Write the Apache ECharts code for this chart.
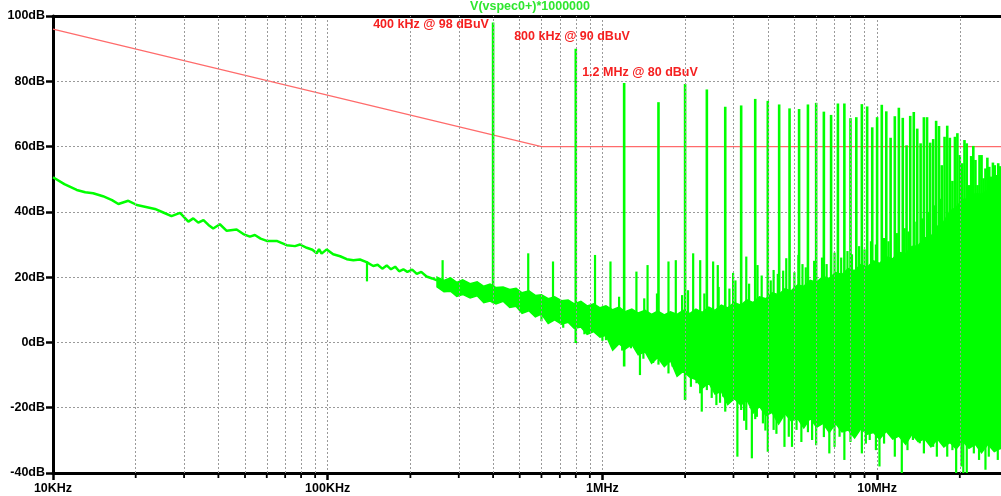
<!DOCTYPE html>
<html>
<head>
<meta charset="utf-8">
<title>V(vspec0+) spectrum</title>
<script src="https://cdn.jsdelivr.net/npm/echarts@6/dist/echarts.min.js"></script>
<style>
  html, body { margin: 0; padding: 0; background: #fff; }
  #spectrum_chart { width: 1001px; height: 496px; }
</style>
</head>
<body>
<div id="spectrum_chart"></div>
<script>
// ---- data ----
// x tick labels (log axis, Hz)
var xTickValues = [1e4, 1e5, 1e6, 1e7];
var xTickLabels = ['10KHz', '100KHz', '1MHz', '10MHz'];
// minor grid lines 2..9 x decade
var minorFreq = [2e4, 3e4, 4e4, 5e4, 6e4, 7e4, 8e4, 9e4,
                 2e5, 3e5, 4e5, 5e5, 6e5, 7e5, 8e5, 9e5,
                 2e6, 3e6, 4e6, 5e6, 6e6, 7e6, 8e6, 9e6,
                 2e7];

// red limit line
var limitFreq = [10000, 600000, 30000000];
var limitDb = [96, 60, 60];

// low frequency noise floor (single trace)
var lowFreq = [10000, 11000, 12200, 13100, 14000, 15200, 16400, 17300, 18800, 20200,
               21800, 23500, 25200, 27000, 29000, 31100, 32400, 33800, 35300, 36800,
               38300, 40500, 42900, 46600, 49300, 52100, 54300, 57000, 60000, 65200,
               70900, 76000, 79300, 83900, 88000, 91200, 93000, 95000, 99200, 104700,
               111000, 117300, 124000, 131000, 138500, 146500, 152000, 158000, 164000, 170000,
               176000, 182000, 188500, 195000, 203000, 211000, 219000, 229000, 240000, 250000];
var lowDb = [50.6, 48.5, 46.7, 46.0, 45.7, 44.8, 43.6, 42.4, 43.4, 42.1,
             41.5, 40.9, 39.8, 38.7, 39.7, 37.0, 38.0, 36.7, 37.5, 36.0,
             34.9, 36.2, 34.2, 34.6, 33.2, 32.4, 32.9, 31.8, 31.1, 31.1,
             29.8, 29.5, 30.0, 29.0, 28.4, 27.3, 28.6, 27.2, 28.5, 27.0,
             26.4, 25.5, 25.2, 25.4, 24.6, 23.4, 23.8, 22.6, 23.6, 22.4,
             23.2, 21.8, 22.4, 21.6, 22.3, 21.0, 21.6, 20.2, 19.6, 19.0];

// dense noise band above 250 kHz: upper / lower edge
var bandFreq = [250e3, 265e3, 280e3, 295e3, 310e3, 330e3, 350e3, 370e3, 390e3, 410e3,
                435e3, 460e3, 485e3, 510e3, 540e3, 570e3, 600e3, 635e3, 670e3, 710e3,
                750e3, 790e3, 835e3, 880e3, 930e3, 980e3, 1.03e6, 1.09e6, 1.15e6, 1.21e6,
                1.28e6, 1.35e6, 1.43e6, 1.51e6, 1.59e6, 1.68e6, 1.77e6, 1.87e6, 1.97e6, 2.08e6,
                2.19e6, 2.31e6, 2.44e6, 2.57e6, 2.71e6, 2.86e6, 3.02e6, 3.19e6, 3.36e6, 3.54e6,
                3.73e6, 3.94e6, 4.15e6, 4.38e6, 4.62e6, 4.87e6, 5.13e6, 5.41e6, 5.71e6, 6.02e6,
                6.35e6, 6.7e6, 7.06e6, 7.45e6, 7.85e6, 8.28e6, 8.73e6, 9.21e6, 9.71e6, 10.2e6,
                10.8e6, 11.4e6, 12.0e6, 12.7e6, 13.4e6, 14.1e6, 14.9e6, 15.7e6, 16.6e6, 17.5e6,
                18.4e6, 19.4e6, 20.5e6, 21.6e6, 22.8e6, 24.0e6, 25.3e6, 26.7e6, 28.2e6, 30.0e6];
var bandHi = [20.0, 19.0, 19.8, 18.4, 19.2, 18.0, 18.6, 17.2, 17.9, 16.8,
              17.0, 16.2, 16.6, 15.2, 15.8, 14.4, 14.6, 13.4, 14.0, 12.8,
              13.0, 11.8, 12.6, 11.2, 11.8, 10.6, 11.2, 10.0, 10.8, 9.4,
              10.2, 9.0, 9.8, 8.6, 9.6, 8.4, 9.4, 8.6, 9.8, 8.8,
              10.2, 9.2, 10.8, 9.8, 11.4, 10.6, 12.2, 11.4, 13.0, 12.2,
              14.0, 13.4, 15.2, 14.6, 16.4, 15.8, 17.6, 17.2, 19.0, 18.4,
              20.2, 19.6, 21.4, 20.8, 22.6, 22.0, 23.8, 23.0, 25.0, 24.2,
              26.2, 25.6, 27.6, 27.2, 29.4, 29.6, 32.0, 32.4, 35.6, 37.0,
              40.2, 41.4, 43.8, 44.0, 45.6, 45.4, 46.6, 46.0, 47.0, 46.8];
var bandLo = [17.0, 15.5, 15.7, 14.1, 14.7, 13.6, 14.3, 12.2, 12.7, 11.8,
              12.6, 10.7, 11.1, 8.9, 9.7, 7.8, 8.7, 5.8, 6.9, 5.6,
              6.2, 4.3, 4.7, 2.5, 3.3, 1.6, 2.2, -2.4, -0.4, -2.0,
              -0.6, -3.8, -2.8, -6.4, -4.6, -7.4, -5.6, -10.4, -8.8, -10.6,
              -11.4, -14.0, -12.4, -15.8, -15.0, -19.0, -17.2, -19.2, -17.6, -21.6,
              -19.6, -22.4, -21.4, -25.0, -21.8, -24.0, -23.2, -26.2, -23.2, -26.0,
              -24.8, -27.6, -24.8, -27.4, -26.8, -29.3, -26.4, -28.1, -27.6, -29.6,
              -27.2, -29.6, -28.7, -31.2, -28.1, -30.4, -29.5, -32.0, -29.6, -32.0,
              -30.6, -32.6, -30.2, -32.4, -31.2, -33.8, -31.2, -33.4, -32.4, -33.2];

// isolated spurs [freq Hz, low dB, high dB]
var spurs = [
  [139000, 18.7, 24.8], [262000, 18.5, 25.2], [537000, 12, 27.3], [661000, 10, 24.8],
  [940000, 8, 26.8], [1030000, 0.7, 6], [1070000, 5, 24.8], [1120000, 3.8, 6],
  [1270000, -1.8, 5], [1330000, 5, 21.7], [1370000, -10, 2], [1460000, 5, 23.7],
  [1530000, -6.3, 2], [1660000, -5.9, 2], [1740000, -9.5, 24.8], [1800000, -7.4, 2],
  [1850000, 5, 25.2], [2100000, -13.6, 0], [2140000, 5, 27.3], [2200000, -12.5, 0],
  [2270000, -15.6, 25.2], [2300000, -21.2, -5], [2400000, -14.6, 0], [2460000, -13, 0],
  [2530000, 5, 24.8], [2600000, -19.2, -5], [2630000, 5, 23.7], [2750000, -16.6, 0],
  [2800000, -21.2, -5], [2950000, -17.6, 0], [2990000, 5, 21.3], [3100000, -35, -10],
  [3200000, -20.7, 0], [3340000, -26.8, 26.3], [3500000, -35.5, -10], [3650000, -22.8, 0],
  [3670000, 5, 23.7], [3840000, -24.8, 0], [4000000, -33.5, -10], [4200000, -26.8, 22.2],
  [4450000, -23.8, 0], [4600000, -32, -10], [4670000, 5, 25.8], [4770000, -28.9, 0],
  [4900000, -32, -10], [5090000, -26.8, 0], [5170000, 5, 26.8], [5800000, -29.9, -10],
  [6700000, -34, -15], [7300000, -28.9, -10], [7600000, -36, -15], [8200000, -27.8, -10],
  [8800000, -34, -15], [9400000, -29.9, -10], [10200000, -38, -15], [11100000, -28, -10],
  [12300000, -40, -15], [13500000, -29.9, -10], [14300000, -30.9, -10], [15800000, -29.5, -10],
  [16500000, -35, -15], [17100000, -30.5, -10], [19400000, -40, -15], [20300000, -38, -15],
  [20600000, -40, -15], [21200000, -40, -15], [22500000, -34, -15], [24800000, -39, -15],
  [26600000, -32, -15],
  // small hairs on the band edges
  [600000, 6.5, 10], [720000, 4.5, 9], [860000, 2.5, 7], [1000000, 0.5, 6],
  [1150000, 5, 14], [1180000, -2.5, 4], [1410000, -5.0, 2], [1420000, 4, 13.5],
  [1580000, 3, 15], [1600000, -6.8, 0], [1900000, -9.8, 0], [1950000, 2, 14.5],
  [2050000, 2, 16], [2350000, 2, 15], [2500000, -17.0, -5], [2650000, 2, 17],
  [2680000, -18.5, -5], [2900000, 2, 16.5], [3050000, 2, 19], [3280000, -24, -5],
  [3420000, 2, 18], [3600000, -23.5, -5], [3800000, 2, 20.5], [3920000, -27.0, -10],
  [4100000, 2, 19], [4300000, -28, -10], [4350000, 2, 21], [4550000, 2, 22],
  [5000000, 2, 21.5], [5300000, -30.5, -10], [5350000, 2, 24], [5500000, 2, 23],
  [5600000, -27.5, -10], [5900000, 2, 25], [6000000, -31.5, -10], [6300000, 2, 26],
  [6400000, -29, -10], [6550000, 2, 24], [7000000, -32, 27.5], [7400000, 2, 26],
  [7800000, 2, 28], [8000000, -30.5, -10], [8100000, 2, 27], [8600000, 2, 29.5],
  [9000000, 2, 28.5], [9100000, -31, -10], [9500000, 2, 31], [9900000, -33, 30],
  [10600000, -31, 32], [11000000, 2, 31], [11600000, -35, -10], [11800000, 2, 33.5],
  [12600000, 2, 35], [12900000, -33, -10], [13000000, 2, 34], [13900000, 2, 37],
  [14600000, 2, 38], [14800000, -34, -10], [15400000, 2, 40], [16000000, -32, -10],
  [16200000, 2, 42], [17000000, 2, 44], [18000000, -35, -10], [18800000, -33, -10],
  [23500000, -36, -10], [25500000, -35, -10], [27500000, -36, -10]
];

// switching harmonics every 400 kHz
var harmMHz = [0.4, 0.8, 1.2, 1.6, 2.0, 2.4, 2.8, 3.2, 3.6, 4.0,
               4.4, 4.8, 5.2, 5.6, 6.0, 6.4, 6.8, 7.2, 7.6, 8.0,
               8.4, 8.8, 9.2, 9.6, 10.0, 10.4, 10.8, 11.2, 11.6, 12.0,
               12.4, 12.8, 13.2, 13.6, 14.0, 14.4, 14.8, 15.2, 15.6, 16.0,
               16.4, 16.8, 17.2, 17.6, 18.0, 18.4, 18.8, 19.2, 19.6, 20.0,
               20.4, 20.8, 21.2, 21.6, 22.0, 22.4, 22.8, 23.2, 23.6, 24.0,
               24.4, 24.8, 25.2, 25.6, 26.0, 26.4, 26.8, 27.2, 27.6, 28.0];
var harmPeak = [98, 90, 79.5, 73.6, 79.2, 77.5, 72.2, 72.6, 74.6, 74.0,
                72.9, 71.7, 71.5, 72.9, 73.4, 70.7, 69.7, 73.2, 73.2, 68.7,
                69.0, 73.0, 72.3, 65.9, 69.0, 72.8, 70.8, 62.7, 69.3, 71.9,
                68.8, 60.4, 69.4, 70.6, 65.5, 61.0, 69.0, 69.0, 61.2, 62.3,
                67.9, 66.3, 54.3, 63.0, 66.4, 62.7, 49.5, 63.0, 64.1, 57.4,
                54.9, 62.0, 61.0, 48.2, 57.1, 60.2, 55.9, 48.2, 57.4, 57.4,
                50.3, 53.3, 56.6, 53.8, 50.8, 55.1, 54.3, 51.3, 54.9, 54.0];
var harmBase = [12, -0.2, -7.4, 0, -17.6, 0, 0, 0, 0, 0,
                0, 0, 0, 0, 0, 0, 0, 0, 0, 0,
                0, 0, 0, 0, 0, 0, 0, 0, 0, 0,
                0, 0, 0, 0, 0, 0, 0, 0, 0, 0,
                0, 0, 0, 0, 0, 0, 0, 0, 0, 0,
                0, 0, 0, 0, 0, 0, 0, 0, 0, 0,
                0, 0, 0, 0, 0, 0, 0, 0, 0, 0];

// annotations
var notes = [
  { text: '400 kHz @ 98 dBuV', x: 431, y: 25 },
  { text: '800 kHz @ 90 dBuV', x: 572, y: 37 },
  { text: '1.2 MHz @ 80 dBuV', x: 640, y: 73 }
];

document.addEventListener("DOMContentLoaded", function() {

    var GREEN = '#00ff00';
    var FONT = '"Liberation Sans", Arial, sans-serif';
    var gridLine = { color: '#9a9a9a', width: 1, type: [2, 2] };
    var X_MIN = 1e4, X_MAX = 28.25e6;   // plot runs off the right edge

    var chartDom = document.getElementById('spectrum_chart');
    var chart = echarts.init(chartDom);

    // vertical line from value(1) to value(2) at x = value(0)
    function spikeRenderer(width) {
        return function(params, api) {
            var a = api.coord([api.value(0), api.value(1)]);
            var b = api.coord([api.value(0), api.value(2)]);
            return {
                type: 'line',
                shape: { x1: a[0], y1: a[1], x2: b[0], y2: b[1] },
                style: { stroke: GREEN, lineWidth: width }
            };
        };
    }

    var harmData = harmMHz.map(function(f, i) { return [f * 1e6, harmBase[i], harmPeak[i]]; });

    var frameLine = { show: true, onZero: false, lineStyle: { color: '#000', width: 3 } };

    var option = {
        animation: false,
        backgroundColor: '#ffffff',
        grid: { left: 53, right: 0, top: 16, bottom: 23 },
        xAxis: [
            {
                type: 'log',
                min: X_MIN,
                max: X_MAX,
                axisLine: frameLine,
                axisTick: { show: true, length: 7, lineStyle: { color: '#000', width: 2.5 } },
                axisLabel: {
                    color: '#000', fontWeight: 'bold', fontSize: 12.5, fontFamily: FONT, margin: 9,
                    showMaxLabel: false,
                    formatter: function(v) {
                        for (var i = 0; i < xTickValues.length; i++) {
                            if (Math.abs(v - xTickValues[i]) / xTickValues[i] < 1e-6) return xTickLabels[i];
                        }
                        return '';
                    }
                },
                splitLine: { show: true, lineStyle: gridLine }
            },
            {
                // top frame line only
                type: 'log',
                position: 'top',
                min: X_MIN,
                max: X_MAX,
                axisLine: frameLine,
                axisTick: { show: false },
                axisLabel: { show: false },
                splitLine: { show: false }
            }
        ],
        yAxis: {
            type: 'value',
            min: -40,
            max: 100,
            interval: 20,
            axisLine: frameLine,
            axisTick: { show: true, length: 7, lineStyle: { color: '#000', width: 2.5 } },
            axisLabel: {
                color: '#000', fontWeight: 'bold', fontSize: 12.5, fontFamily: FONT, margin: 8,
                formatter: '{value}dB'
            },
            splitLine: { show: true, lineStyle: gridLine }
        },
        graphic: [
            {
                type: 'text', x: 530, y: 7, z: 100,
                style: { text: 'V(vspec0+)*1000000', fill: '#2ee62e', font: 'bold 12.5px ' + FONT,
                         align: 'center', verticalAlign: 'middle' }
            }
        ].concat(notes.map(function(n) {
            return {
                type: 'text', x: n.x, y: n.y, z: 100,
                style: { text: n.text, fill: '#f52020', font: 'bold 12.5px ' + FONT,
                         align: 'center', verticalAlign: 'middle' }
            };
        })),
        series: [
            {
                // limit line + minor grid lines
                type: 'line',
                data: limitFreq.map(function(f, i) { return [f, limitDb[i]]; }),
                showSymbol: false,
                lineStyle: { color: '#ff6b6b', width: 1.2 },
                z: 1,
                markLine: {
                    silent: true,
                    symbol: 'none',
                    label: { show: false },
                    lineStyle: gridLine,
                    data: minorFreq.map(function(f) { return { xAxis: f }; })
                }
            },
            {
                // minor ticks under the x axis
                type: 'custom',
                data: minorFreq.map(function(f) { return [f, -40]; }),
                encode: { x: 0, y: 1 },
                clip: false,
                z: 5,
                renderItem: function(params, api) {
                    var p = api.coord([api.value(0), api.value(1)]);
                    return {
                        type: 'line',
                        shape: { x1: p[0], y1: p[1], x2: p[0], y2: p[1] + 5 },
                        style: { stroke: '#000', lineWidth: 1.8 }
                    };
                }
            },
            {
                type: 'line',
                data: lowFreq.map(function(f, i) { return [f, lowDb[i]]; }),
                showSymbol: false,
                lineStyle: { color: GREEN, width: 2.5 },
                z: 3
            },
            {
                // noise band
                type: 'custom',
                data: [[bandFreq[0], bandLo[0]]],
                encode: { x: 0, y: 1 },
                z: 3,
                renderItem: function(params, api) {
                    var pts = [];
                    for (var i = 0; i < bandFreq.length; i++) pts.push(api.coord([bandFreq[i], bandHi[i]]));
                    for (var j = bandFreq.length - 1; j >= 0; j--) pts.push(api.coord([bandFreq[j], bandLo[j]]));
                    return {
                        type: 'polygon',
                        shape: { points: pts },
                        style: { fill: GREEN, stroke: GREEN, lineWidth: 1.5 }
                    };
                }
            },
            {
                type: 'custom',
                data: spurs,
                encode: { x: 0, y: [1, 2] },
                z: 3,
                renderItem: spikeRenderer(2.2)
            },
            {
                type: 'custom',
                data: harmData,
                encode: { x: 0, y: [1, 2] },
                z: 3,
                renderItem: spikeRenderer(2.6)
            }
        ]
    };
    chart.setOption(option);

    window.addEventListener('resize', function() {
        chart.resize();
    });
});
</script>
</body>
</html>
